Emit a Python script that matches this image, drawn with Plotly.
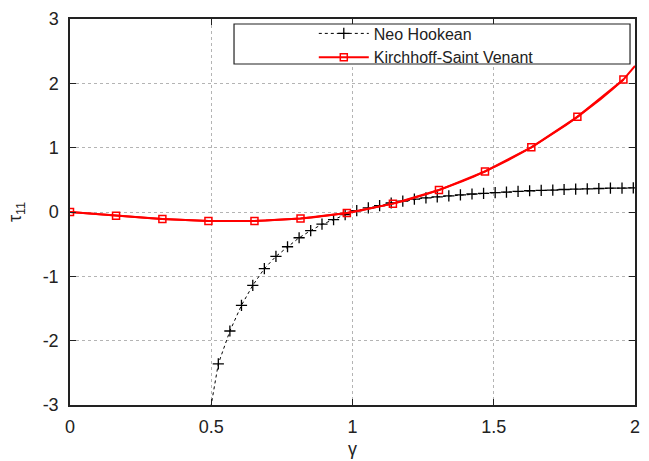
import plotly.graph_objects as go

# ---- data ----
neo_x = [0.484, 0.525, 0.566, 0.607, 0.647, 0.688, 0.729, 0.770, 0.811, 0.852,
         0.892, 0.933, 0.974, 1.015, 1.056, 1.096, 1.137, 1.178, 1.219, 1.260,
         1.300, 1.341, 1.382, 1.423, 1.464, 1.505, 1.545, 1.586, 1.627, 1.668,
         1.709, 1.749, 1.790, 1.831, 1.872, 1.913, 1.954, 1.994]
neo_y = [-3.40, -2.36, -1.85, -1.45, -1.14, -0.88, -0.69, -0.54, -0.40, -0.29,
         -0.19, -0.12, -0.04, 0.02, 0.065, 0.10, 0.14, 0.17, 0.20, 0.22,
         0.235, 0.25, 0.265, 0.28, 0.29, 0.30, 0.31, 0.32, 0.33, 0.335,
         0.34, 0.35, 0.355, 0.36, 0.365, 0.37, 0.372, 0.376]

ksv_x = [0.0, 0.041, 0.082, 0.122, 0.163, 0.204, 0.245, 0.286, 0.327, 0.367,
         0.408, 0.449, 0.490, 0.531, 0.571, 0.612, 0.653, 0.694, 0.735, 0.776,
         0.816, 0.857, 0.898, 0.939, 0.980, 1.020, 1.061, 1.102, 1.143, 1.184,
         1.224, 1.265, 1.306, 1.347, 1.388, 1.429, 1.469, 1.510, 1.551, 1.592,
         1.633, 1.673, 1.714, 1.755, 1.796, 1.837, 1.878, 1.918, 1.959, 2.0]
ksv_y = [0.0, -0.015, -0.030, -0.045, -0.059, -0.072, -0.085, -0.097, -0.108, -0.118,
         -0.126, -0.133, -0.138, -0.141, -0.142, -0.142, -0.139, -0.133, -0.125, -0.114,
         -0.101, -0.084, -0.064, -0.041, -0.015, 0.016, 0.050, 0.088, 0.130, 0.176,
         0.226, 0.281, 0.341, 0.406, 0.475, 0.550, 0.630, 0.716, 0.807, 0.903,
         1.006, 1.115, 1.230, 1.351, 1.479, 1.613, 1.754, 1.902, 2.058, 2.27]
ksv_mark_x = ksv_x[::4]
ksv_mark_y = ksv_y[::4]

x_ticks = [0, 0.5, 1, 1.5, 2]
x_tick_labels = ["0", "0.5", "1", "1.5", "2"]
y_ticks = [-3, -2, -1, 0, 1, 2, 3]
y_tick_labels = ["-3", "-2", "-1", "0", "1", "2", "3"]

FONT = "Liberation Sans, Arial, sans-serif"
INK = "#222222"

fig = go.Figure()

fig.add_trace(go.Scatter(
    x=neo_x, y=neo_y, name="Neo Hookean", mode="lines+markers",
    line=dict(color="black", width=1, dash="3px,3px"),
    marker=dict(symbol="cross-thin", size=8, line=dict(color="black", width=1.3)),
))

fig.add_trace(go.Scatter(
    x=ksv_x, y=ksv_y, mode="lines", showlegend=False, legendgroup="ksv",
    line=dict(color="#ff0000", width=2), hoverinfo="skip",
))
fig.add_trace(go.Scatter(
    x=ksv_mark_x, y=ksv_mark_y, name="Kirchhoff-Saint Venant", mode="lines+markers",
    legendgroup="ksv",
    line=dict(color="#ff0000", width=2),
    marker=dict(symbol="square-open", size=7, color="#ff0000",
                line=dict(color="#ff0000", width=1.5)),
))

axis_common = dict(
    showline=True, linecolor=INK, linewidth=1.5, mirror="ticks",
    ticks="inside", ticklen=6, tickwidth=1, tickcolor=INK,
    showgrid=True, gridcolor="#b4b4b4", gridwidth=1, griddash="dot",
    zeroline=False, tickfont=dict(family=FONT, size=18, color=INK),
)

fig.update_xaxes(
    range=[0, 2], tickvals=x_ticks, ticktext=x_tick_labels,
    title=dict(text="γ", font=dict(family=FONT, size=18, color=INK), standoff=6),
    ticklabelstandoff=5,
    **axis_common,
)
fig.update_yaxes(
    range=[-3, 3], tickvals=y_ticks, ticktext=y_tick_labels,
    title=dict(text="τ<sub>11</sub>", font=dict(family=FONT, size=18, color=INK), standoff=16),
    ticklabelstandoff=6,
    **axis_common,
)

# frame of the key box (top-right corner of the plot)
fig.add_shape(type="rect", xref="paper", yref="paper",
              x0=0.2903, x1=0.9912, y0=0.8834, y1=0.9870,
              line=dict(color=INK, width=1.2), fillcolor="white", layer="above")

fig.update_layout(
    width=649, height=461,
    margin=dict(l=70, r=14, t=19, b=56, autoexpand=False),
    paper_bgcolor="white", plot_bgcolor="white",
    font=dict(family=FONT, size=17, color=INK),
    showlegend=True,
    legend=dict(
        x=0.4315, xanchor="left", y=1.0065, yanchor="top",
        bgcolor="rgba(0,0,0,0)", borderwidth=0,
        font=dict(family=FONT, size=16, color=INK),
        itemwidth=50, tracegroupgap=0,
    ),
)

fig.write_html("out.html")
